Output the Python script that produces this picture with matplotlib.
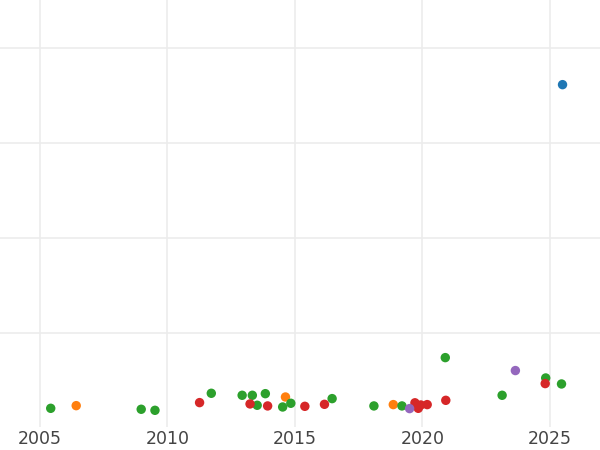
import matplotlib.pyplot as plt

# points per colour group (year, value)
blue_x = [2025.50]
blue_y = [361]

orange_x = [2006.42, 2014.63, 2018.86]
orange_y = [23.5, 32.6, 24.6]

green_x = [2005.42, 2008.97, 2009.51, 2011.72, 2012.93, 2013.33, 2013.52, 2013.84,
           2014.52, 2014.84, 2016.46, 2018.10, 2019.20, 2020.90, 2023.13, 2024.84, 2025.46]
green_y = [20.7, 19.7, 18.6, 36.5, 34.4, 34.4, 23.9, 36.1,
           22.1, 26.0, 30.9, 23.2, 23.2, 74.0, 34.4, 52.6, 46.3]

red_x = [2011.26, 2013.24, 2013.93, 2015.39, 2016.16, 2019.71, 2019.84, 2019.94,
         2020.19, 2020.92, 2024.82]
red_y = [26.7, 25.3, 23.2, 22.8, 24.9, 26.5, 20.7, 24.2,
         24.6, 29.1, 46.7]

purple_x = [2019.50, 2023.65]
purple_y = [20.4, 60.4]

groups = [
    (blue_x, blue_y, '#1f77b4'),
    (orange_x, orange_y, '#ff7f0e'),
    (green_x, green_y, '#2ca02c'),
    (red_x, red_y, '#d62728'),
    (purple_x, purple_y, '#9467bd'),
]

fig = plt.figure(figsize=(6, 4.5), dpi=100)
ax = fig.add_axes([0, 0.051, 1, 0.949])

for xs, ys, c in groups:
    ax.scatter(xs, ys, s=46, color=c, edgecolors='none', zorder=3)

ax.set_xlim(2003.43, 2026.97)
ax.set_ylim(1, 450)
ax.set_xticks([2005, 2010, 2015, 2020, 2025])
ax.set_yticks([100, 200, 300, 400])
ax.set_yticklabels([])
ax.grid(True, color='#ececec', linewidth=1.2)
ax.set_axisbelow(True)
for s in ax.spines.values():
    s.set_visible(False)
ax.tick_params(length=0, labelsize=12.5, labelcolor='#444444', pad=2)

fig.savefig('out.png', dpi=100)
